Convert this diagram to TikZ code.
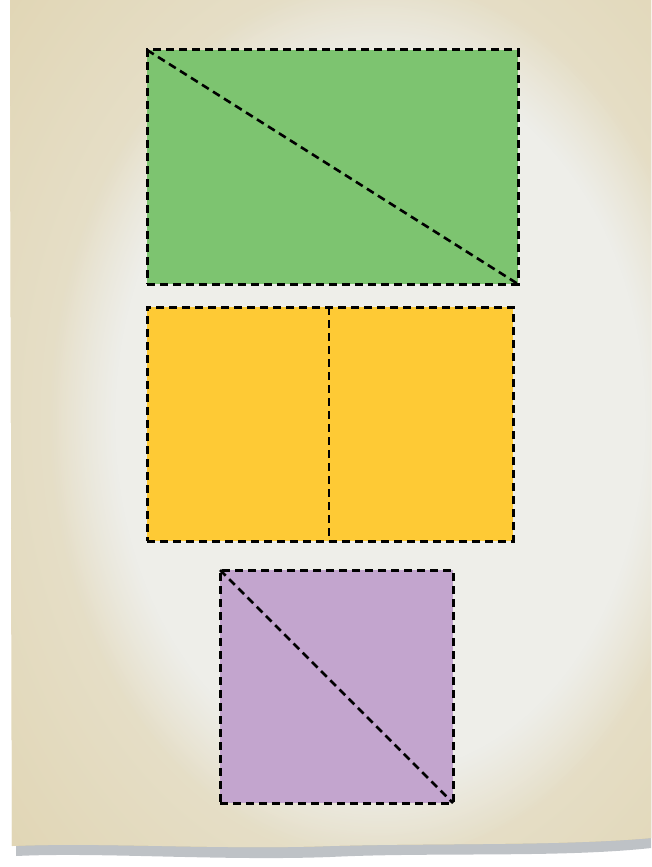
\documentclass[tikz,border=0pt]{standalone}
\usepackage{tikz}
\usetikzlibrary{positioning, calc, fadings}
\definecolor{sheetdark}{RGB}{220, 205, 162}
\definecolor{sheetlight}{RGB}{238, 238, 233}
\definecolor{sheetshadow}{RGB}{190, 194, 198}
\definecolor{leafgreen}{RGB}{125, 196, 112}
\definecolor{sunyellow}{RGB}{254, 202, 53}
\definecolor{lilac}{RGB}{195, 165, 206}

\begin{document}
\begin{tikzpicture}[
  x=1pt, y=-1pt,
  piece/.style={draw=black, line width=3pt, dash pattern=on 8pt off 5pt, inner sep=0pt, outer sep=0pt},
  cut/.style={black, line width=2.6pt, dash pattern=on 8pt off 5pt}
]
  \useasboundingbox (0,0) rectangle (651,867);
  % paper sheet with shadow
  \fill[sheetshadow] (16,20) -- (651,20) -- (651,848) .. controls (560,858) and (430,852) .. (330,857)
    .. controls (220,861) and (100,852) .. (16,856) -- cycle;
  \path[save path=\sheetpath] (10,0) -- (651,0) -- (651,838) .. controls (560,846) and (430,843) .. (330,846)
    .. controls (220,850) and (100,842) .. (12,846) -- cycle;
  \fill[sheetdark, use path=\sheetpath];
  \begin{scope}
    \clip[use path=\sheetpath];
    \shade[inner color=sheetlight, outer color=sheetdark] (370,420) ellipse (660 and 880);
    \fill[sheetlight, path fading=circle with fuzzy edge 20 percent] (380,420) ellipse (330 and 440);
  \end{scope}

  % three pieces
  \node[piece, fill=leafgreen, minimum width=371pt, minimum height=234pt] (top) at (332.5,167) {};
  \node[piece, fill=sunyellow, minimum width=366pt, minimum height=234pt] (mid) at (330,424) {};
  \node[piece, fill=lilac, minimum width=233pt, minimum height=233pt] (low) at (336.5,686.5) {};

  \draw[cut] (top.north west) -- (top.south east);
  \draw[cut] ($(mid.north west)!0.497!(mid.north east)$) coordinate (midtop)
    -- ($(mid.south west)!0.497!(mid.south east)$) coordinate (midbot);
  \draw[cut] (low.north west) -- (low.south east);
\end{tikzpicture}
\end{document}
